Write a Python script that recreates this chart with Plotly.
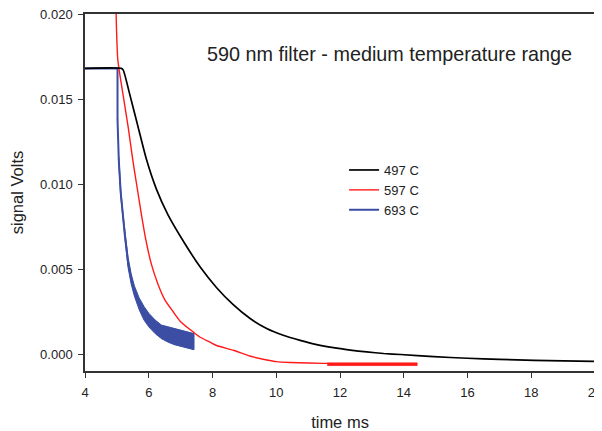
import plotly.graph_objects as go

# ---- data ----
black_t = [4.0, 5.14, 5.20, 5.40, 5.66, 5.92, 6.24, 6.60, 7.13, 7.62, 8.13, 8.65, 9.17,
           9.70, 10.22, 10.75, 11.27, 11.79, 12.32, 12.84, 13.37, 13.90, 14.94, 16.0,
           17.0, 18.1, 19.0, 20.0]
black_v = [0.0168, 0.0168, 0.0167, 0.0153, 0.0134, 0.0115, 0.0097, 0.0082, 0.0065, 0.0051,
           0.0039, 0.0029, 0.0021, 0.0015, 0.0011, 0.0008, 0.00055, 0.00037, 0.00023,
           0.00012, 0.00003, -0.00003, -0.00016, -0.00025, -0.00032, -0.00037, -0.0004,
           -0.00043]

red_t = [4.97, 5.03, 5.19, 5.35, 5.50, 5.66, 5.77, 5.90, 6.08, 6.29, 6.50, 6.76, 7.00,
         7.39, 7.60, 7.92, 8.13, 8.65, 9.17, 9.70, 10.00, 10.43, 11.50, 14.42]
red_v = [0.0205, 0.0173, 0.0153, 0.0134, 0.0114, 0.0095, 0.0082, 0.0068, 0.0053, 0.0041,
         0.0032, 0.0025, 0.0019, 0.0013, 0.0010, 0.0007, 0.0005, 0.00022, -0.00012,
         -0.00035, -0.00045, -0.0005, -0.00055, -0.00055]
# noisy tail band of the red trace
red_band_t = [11.6, 14.42]
red_band_hi = [-0.00053, -0.00053]
red_band_lo = [-0.00068, -0.00068]

blue_t = [4.0, 5.02, 5.02, 5.06, 5.12, 5.20, 5.26, 5.35, 5.45, 5.55, 5.70, 5.85, 6.00,
          6.20, 6.40, 6.60, 6.80, 7.00, 7.20, 7.42]
blue_v = [0.0168, 0.0168, 0.0138, 0.0114, 0.0095, 0.0079, 0.0068, 0.0054, 0.0044, 0.0037,
          0.0029, 0.0024, 0.0020, 0.0016, 0.0013, 0.00115, 0.0010, 0.0009, 0.0008, 0.00072]
# noise envelope of the blue trace
blue_band_t = [5.06, 5.12, 5.20, 5.26, 5.35, 5.45, 5.55, 5.70, 5.85, 6.00, 6.20, 6.40,
               6.60, 6.80, 7.00, 7.20, 7.42]
blue_band_hi = [0.0116, 0.0097, 0.0081, 0.0070, 0.0057, 0.0047, 0.0040, 0.0033, 0.0028,
                0.0024, 0.0020, 0.0017, 0.0016, 0.0015, 0.0014, 0.0013, 0.0012]
blue_band_lo = [0.0112, 0.0093, 0.0077, 0.0066, 0.0051, 0.0041, 0.0034, 0.0026, 0.0020,
                0.0016, 0.0012, 0.0009, 0.0007, 0.00055, 0.00045, 0.00035, 0.00025]

series_names = ["497 C", "597 C", "693 C"]
x_ticks = [4, 6, 8, 10, 12, 14, 16, 18, 20]
y_ticks = [0.0, 0.005, 0.010, 0.015, 0.020]
title_text = "590 nm filter - medium temperature range"

BLUE = "#3b4ea3"
RED = "#ff1a1a"

fig = go.Figure()

# blue band polygon
fig.add_trace(go.Scatter(
    x=blue_band_t + blue_band_t[::-1], y=blue_band_hi + blue_band_lo[::-1],
    fill="toself", fillcolor=BLUE, line=dict(color=BLUE, width=1),
    mode="lines", showlegend=False, hoverinfo="skip"))
# red band polygon
fig.add_trace(go.Scatter(
    x=red_band_t + red_band_t[::-1], y=red_band_hi + red_band_lo[::-1],
    fill="toself", fillcolor=RED, line=dict(color=RED, width=0.8),
    mode="lines", showlegend=False, hoverinfo="skip"))

fig.add_trace(go.Scatter(x=blue_t, y=blue_v, mode="lines", name=series_names[2],
                         line=dict(color=BLUE, width=2), legendrank=3))
fig.add_trace(go.Scatter(x=red_t, y=red_v, mode="lines", name=series_names[1],
                         line=dict(color=RED, width=1.4, shape="spline", smoothing=0.6),
                         legendrank=2))
fig.add_trace(go.Scatter(x=black_t, y=black_v, mode="lines", name=series_names[0],
                         line=dict(color="black", width=1.7, shape="spline", smoothing=0.6),
                         legendrank=1))

font_family = "Liberation Sans, Arial, sans-serif"

# the page body adds an 8px offset at top-left, so the figure is 8px smaller
fig.update_layout(
    width=594, height=423,
    margin=dict(l=77, r=7, t=6, b=60),
    paper_bgcolor="white", plot_bgcolor="white",
    font=dict(family=font_family, color="#222", size=13),
    showlegend=True,
    legend=dict(x=0.508, y=0.605, xanchor="left", yanchor="top",
                bgcolor="rgba(0,0,0,0)", font=dict(size=13),
                traceorder="normal", tracegroupgap=0),
    annotations=[dict(text=title_text, xref="paper", yref="paper",
                      x=0.598, y=0.889, xanchor="center", yanchor="middle",
                      showarrow=False, font=dict(size=19.8, color="#222"))],
)

fig.update_xaxes(range=[4, 20], tickvals=x_ticks, ticks="outside", ticklen=5,
                 tickcolor="#333", showline=True, linecolor="#333", linewidth=1.5,
                 mirror=True, showgrid=False, zeroline=False, automargin=False,
                 ticklabelstandoff=4, ticklabeloverflow="allow",
                 title=dict(text="time ms", font=dict(size=16.5), standoff=20),
                 tickfont=dict(size=13))
fig.update_yaxes(range=[-0.001, 0.020], tickvals=y_ticks, tickformat=".3f",
                 ticks="outside", ticklen=5, tickcolor="#333", showline=True,
                 linecolor="#333", linewidth=1.5, mirror=True, showgrid=False,
                 zeroline=False, automargin=False, ticklabelstandoff=3,
                 ticklabeloverflow="allow",
                 title=dict(text="signal Volts", font=dict(size=16.5), standoff=15),
                 tickfont=dict(size=13))

fig.write_html("out.html")
